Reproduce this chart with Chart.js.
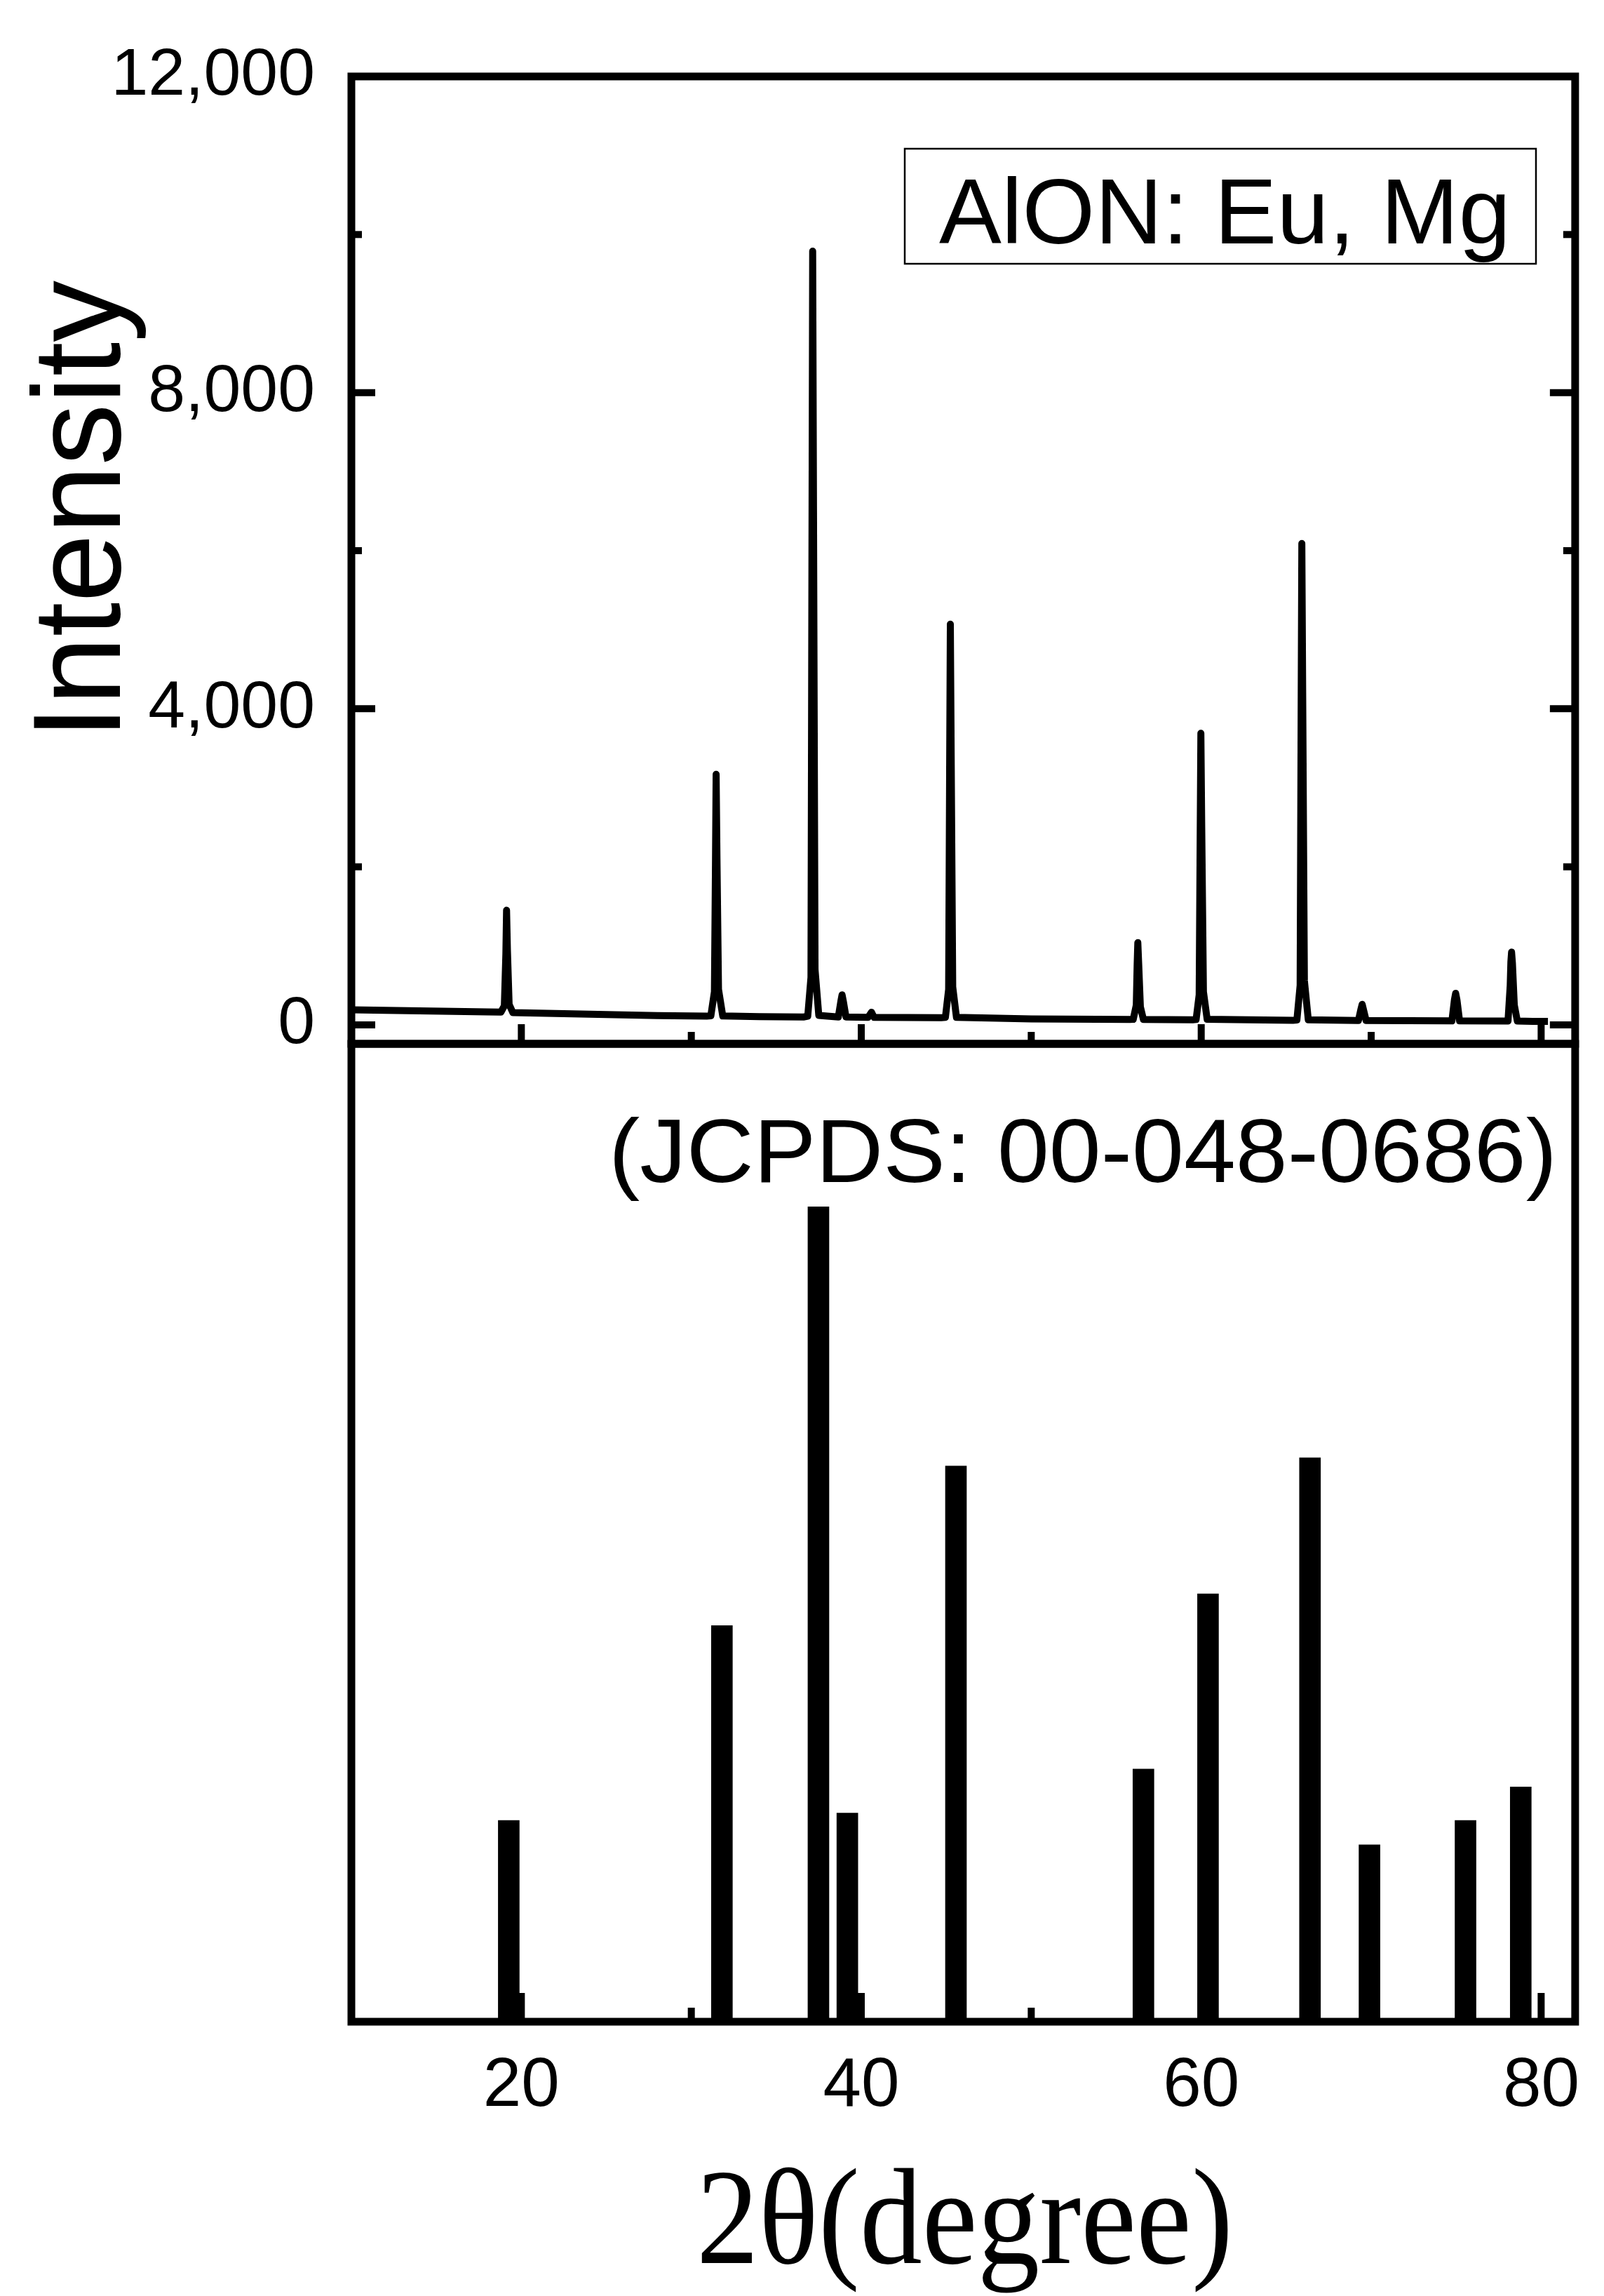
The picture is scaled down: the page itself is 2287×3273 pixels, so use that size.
<!DOCTYPE html>
<html>
<head>
<meta charset="utf-8">
<script src="https://cdn.jsdelivr.net/npm/chart.js@4.4.1/dist/chart.umd.min.js"></script>
<style>
  html, body { margin: 0; padding: 0; background: #fff; }
  canvas { display: block; }
</style>
</head>
<body>
<canvas id="xrdChart" width="2287" height="3273"></canvas>
<script>
// measured XRD trace of AlON:Eu,Mg  [2theta, counts]
const sampleTrace = [
  [10, 190], [12, 185], [14, 178], [16, 170], [18, 165], [18.8, 162],
  [19.0, 240], [19.09, 900], [19.13, 1450], [19.18, 950], [19.28, 260], [19.5, 155],
  [22, 145], [25, 130], [28, 118], [30.9, 110],
  [31.15, 115], [31.36, 420], [31.42, 2000], [31.46, 3170], [31.51, 2100], [31.6, 450], [31.85, 112],
  [34, 105], [36.6, 100],
  [36.85, 110], [37.04, 600], [37.1, 6200], [37.14, 9790], [37.19, 6500], [37.28, 700], [37.5, 120],
  [38.65, 100], [38.8, 300], [38.87, 380], [38.95, 290], [39.1, 100],
  [40.4, 95], [40.6, 160], [40.75, 95],
  [44.7, 90],
  [44.95, 95], [45.14, 450], [45.2, 3300], [45.24, 5070], [45.29, 3400], [45.38, 480], [45.6, 95],
  [50, 75], [55.8, 68],
  [56.0, 70], [56.18, 250], [56.23, 750], [56.27, 1040], [56.32, 780], [56.42, 230], [56.6, 68],
  [59.5, 65],
  [59.7, 68], [59.88, 380], [59.94, 2400], [59.98, 3690], [60.03, 2500], [60.13, 420], [60.35, 70],
  [65.4, 58],
  [65.63, 62], [65.82, 500], [65.88, 4000], [65.92, 6090], [65.97, 4200], [66.07, 560], [66.3, 65],
  [69.25, 55], [69.4, 200], [69.47, 260], [69.55, 190], [69.7, 55],
  [74.75, 50], [74.9, 320], [74.97, 400], [75.05, 310], [75.2, 50],
  [78.05, 48], [78.18, 500], [78.22, 800], [78.26, 920], [78.31, 780], [78.42, 250], [78.6, 48],
  [79.5, 45], [80.4, 45]
];

// reference pattern JCPDS 00-048-0686 (relative intensity)
const refAngle = [19.26, 31.8, 37.48, 39.18, 45.57, 56.6, 60.4, 66.4, 69.9, 75.55, 78.8];
const refIntensity = [24.7, 48.6, 100, 25.6, 68.2, 31.0, 52.5, 69.2, 21.7, 24.7, 28.8];

// axis ticks
const xLabelTicks = [20, 40, 60, 80];
const xMinorTicks = [30, 50, 70];
const yLabelTicks = [0, 4000, 8000, 12000];
const yMinorTicks = [2000, 6000, 10000];

Chart.defaults.font.family = 'Liberation Sans, Arial, sans-serif';
Chart.defaults.color = '#000';

// draw text stretched to a measured width
function fitText(ctx, text, x, y, width, font) {
  ctx.save();
  ctx.font = font;
  const w = ctx.measureText(text).width;
  ctx.translate(x, y);
  ctx.scale(width / w, 1);
  ctx.fillText(text, 0, 0);
  ctx.restore();
}

function tick(ctx, x1, y1, x2, y2) {
  ctx.beginPath();
  ctx.moveTo(x1, y1);
  ctx.lineTo(x2, y2);
  ctx.stroke();
}

const framePlugin = {
  id: 'framePlugin',
  afterDraw(chart) {
    const ctx = chart.ctx;
    const xs = chart.scales.x, yt = chart.scales.y, yb = chart.scales.y2;
    const L = chart.chartArea.left, R = chart.chartArea.right;
    ctx.save();
    ctx.strokeStyle = '#000';
    ctx.fillStyle = '#000';

    // ticks (inward)
    ctx.lineWidth = 10;
    ctx.lineCap = 'butt';
    yLabelTicks.forEach(v => {
      const p = yt.getPixelForValue(v);
      tick(ctx, L, p, L + 34, p);
      tick(ctx, R, p, R - 36, p);
    });
    yMinorTicks.forEach(v => {
      const p = yt.getPixelForValue(v);
      tick(ctx, L, p, L + 15, p);
      tick(ctx, R, p, R - 17, p);
    });
    xLabelTicks.forEach(v => {
      const p = xs.getPixelForValue(v);
      tick(ctx, p, yt.bottom, p, yt.bottom - 28);
      tick(ctx, p, yb.bottom, p, yb.bottom - 41);
    });
    xMinorTicks.forEach(v => {
      const p = xs.getPixelForValue(v);
      tick(ctx, p, yt.bottom, p, yt.bottom - 17);
      tick(ctx, p, yb.bottom, p, yb.bottom - 20);
    });

    // panel frames
    ctx.lineWidth = 11;
    ctx.lineJoin = 'miter';
    ctx.strokeRect(L, yt.top, R - L, yt.bottom - yt.top);
    ctx.strokeRect(L, yb.top, R - L, yb.bottom - yb.top);

    // legend box
    ctx.lineWidth = 2.5;
    ctx.strokeRect(1290, 212, 900, 164);
    ctx.textBaseline = 'alphabetic';
    fitText(ctx, 'AlON: Eu, Mg', 1339, 347, 815, '132px "Liberation Sans"');
    fitText(ctx, '(JCPDS: 00-048-0686)', 868, 1685, 1352, '128px "Liberation Sans"');

    // axis titles
    fitText(ctx, '2θ(degree)', 993, 3226, 765, '194px "Liberation Serif"');
    ctx.save();
    ctx.translate(171, 1054);
    ctx.rotate(-Math.PI / 2);
    fitText(ctx, 'Intensity', 0, 0, 654, '178px "Liberation Sans"');
    ctx.restore();
    ctx.restore();
  }
};

new Chart(document.getElementById('xrdChart'), {
  type: 'line',
  data: {
    datasets: [
      {
        type: 'line',
        label: 'AlON: Eu, Mg',
        data: sampleTrace.map(p => ({ x: p[0], y: p[1] })),
        xAxisID: 'x',
        yAxisID: 'y',
        borderColor: '#000',
        borderWidth: 10,
        borderJoinStyle: 'round',
        pointRadius: 0,
        tension: 0
      },
      {
        type: 'bar',
        label: 'JCPDS 00-048-0686',
        data: refAngle.map((a, i) => ({ x: a, y: refIntensity[i] })),
        xAxisID: 'x',
        yAxisID: 'y2',
        backgroundColor: '#000',
        borderWidth: 0,
        barThickness: 30
      }
    ]
  },
  options: {
    responsive: false,
    animation: false,
    layout: { padding: { top: 101, right: 40, bottom: 0, left: 0 } },
    plugins: { legend: { display: false }, tooltip: { enabled: false } },
    scales: {
      x: {
        type: 'linear',
        min: 10,
        max: 82,
        offset: false,
        grid: { display: false, drawTicks: false },
        border: { display: false },
        afterBuildTicks: s => { s.ticks = xLabelTicks.map(v => ({ value: v })); },
        afterFit: s => { s.height = 391; },
        ticks: { font: { size: 98 }, padding: 34, maxRotation: 0, autoSkip: false }
      },
      y: {
        type: 'linear',
        position: 'left',
        stack: 'xrd',
        stackWeight: 1383,
        weight: 2,
        min: -240,
        max: 12000,
        grid: { display: false, drawTicks: false },
        border: { display: false },
        afterBuildTicks: s => { s.ticks = yLabelTicks.map(v => ({ value: v })); },
        afterFit: s => { s.width = 501; },
        ticks: {
          font: { size: 95 },
          padding: 52,
          callback: v => v.toLocaleString('en-US')
        }
      },
      y2: {
        type: 'linear',
        position: 'left',
        stack: 'xrd',
        stackWeight: 1398,
        weight: 1,
        min: 0,
        max: 120,
        grid: { display: false, drawTicks: false },
        border: { display: false },
        afterFit: s => { s.width = 501; },
        ticks: { display: false }
      }
    }
  },
  plugins: [framePlugin]
});
</script>
</body>
</html>
